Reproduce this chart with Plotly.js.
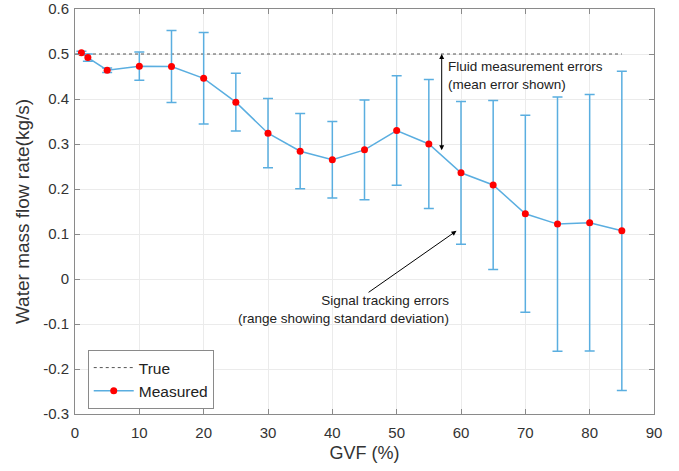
<!DOCTYPE html>
<html>
<head>
<meta charset="utf-8">
<script src="https://cdn.plot.ly/plotly-3.0.1.min.js"></script>
<style>html,body{margin:0;padding:0;background:#fff;}#chart{width:679px;height:471px;}</style>
</head>
<body>
<div id="chart"></div>
<script>
var gvf = [1, 2, 5, 10, 15, 20, 25, 30, 35, 40, 45, 50, 55, 60, 65, 70, 75, 80, 85];
var measured = [0.503, 0.492, 0.464, 0.473, 0.472, 0.446, 0.393, 0.324, 0.284, 0.265, 0.287, 0.330, 0.300, 0.236, 0.209, 0.145, 0.122, 0.125, 0.107];
var stdDev = [0.003, 0.008, 0.005, 0.0315, 0.080, 0.1015, 0.064, 0.077, 0.0835, 0.085, 0.111, 0.1215, 0.1435, 0.1585, 0.1877, 0.219, 0.2825, 0.285, 0.3545];
var trueX = [0, 85];
var trueY = [0.5, 0.5];
var xTicks = [0, 10, 20, 30, 40, 50, 60, 70, 80, 90];
var yTicks = [-0.3, -0.2, -0.1, 0, 0.1, 0.2, 0.3, 0.4, 0.5, 0.6];
var yTickText = ['-0.3', '-0.2', '-0.1', '0', '0.1', '0.2', '0.3', '0.4', '0.5', '0.6'];

var font = 'Liberation Sans, Arial, Helvetica, sans-serif';
var traces = [
  {
    x: trueX, y: trueY, type: 'scatter', mode: 'lines', name: 'True',
    line: {color: '#555555', width: 1, dash: '3px,3px'}
  },
  {
    x: gvf, y: measured, type: 'scatter', mode: 'lines+markers', name: 'Measured',
    line: {color: '#5aaee0', width: 1.5},
    marker: {color: '#ff0000', size: 7},
    error_y: {type: 'data', array: stdDev, visible: true, color: '#5aaee0', thickness: 1.5, width: 5}
  }
];

var axisCommon = {
  showline: true, linecolor: '#8a8a8a', linewidth: 1, mirror: 'ticks',
  ticks: 'inside', ticklen: 5, tickcolor: '#8a8a8a',
  showgrid: true, gridcolor: '#ebebeb', gridwidth: 1, zeroline: false,
  tickfont: {family: font, size: 15, color: '#333333'}
};

var annFont = {family: font, size: 13.5, color: '#222222'};

var layout = {
  width: 679, height: 471,
  margin: {l: 75, r: 25, t: 9, b: 57},
  paper_bgcolor: '#ffffff', plot_bgcolor: '#ffffff',
  showlegend: true,
  legend: {x: 0.022, y: 0.158, xanchor: 'left', yanchor: 'top', bgcolor: '#ffffff',
           bordercolor: '#8a8a8a', borderwidth: 1, itemwidth: 40,
           font: {family: font, size: 15.5, color: '#222'}},
  xaxis: Object.assign({}, axisCommon, {
    range: [0, 90], tickvals: xTicks, ticklabelstandoff: 5,
    title: {text: 'GVF (%)', font: {family: font, size: 18, color: '#333333'}, standoff: 6}
  }),
  yaxis: Object.assign({}, axisCommon, {
    range: [-0.3, 0.6], tickvals: yTicks, ticktext: yTickText, ticklabelstandoff: 2,
    title: {text: 'Water mass flow rate(kg/s)', font: {family: font, size: 19, color: '#333333'}, standoff: 8}
  }),
  annotations: [
    {x: 57.0, y: 0.5, ax: 57.0, ay: 0.283, xref: 'x', yref: 'y', axref: 'x', ayref: 'y',
     text: '', showarrow: true, arrowhead: 2, startarrowhead: 2, arrowside: 'end+start',
     arrowsize: 1, arrowwidth: 1, arrowcolor: '#000000'},
    {x: 57.6, y: 0.4525, xref: 'x', yref: 'y', xanchor: 'left', yanchor: 'middle', align: 'left',
     text: 'Fluid measurement errors<br>(mean error shown)', showarrow: false, font: annFont},
    {x: 59.3, y: 0.107, ax: 45.4, ay: -0.032, xref: 'x', yref: 'y', axref: 'x', ayref: 'y',
     text: '', showarrow: true, arrowhead: 2, arrowsize: 1, arrowwidth: 1, arrowcolor: '#000000'},
    {x: 58.5, y: -0.0685, xref: 'x', yref: 'y', xanchor: 'right', yanchor: 'middle', align: 'right',
     text: 'Signal tracking errors<br>(range showing standard deviation)', showarrow: false, font: annFont}
  ]
};

Plotly.newPlot('chart', traces, layout, {displayModeBar: false, staticPlot: true});
</script>
</body>
</html>
